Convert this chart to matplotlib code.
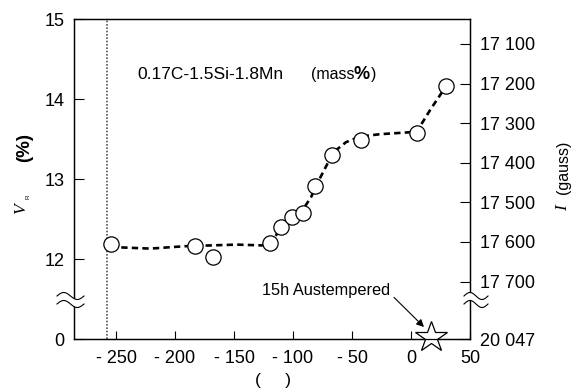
import numpy as np
import matplotlib
matplotlib.use("Agg")
import matplotlib.pyplot as plt

plt.rcParams["font.family"] = ["Liberation Sans", "DejaVu Sans"]

# measured V_R (%) vs temperature
temp = [-254.5, -183, -167.5, -119.5, -110, -101, -91.5, -81.5, -67, -42.5, 5, 29.5]
vr = [12.19, 12.16, 12.03, 12.20, 12.40, 12.53, 12.58, 12.91, 13.30, 13.49, 13.58, 14.16]

# hand-drawn trend curve (dashed)
curve_t = [-254.5, -221, -191.5, -147.7, -126.3, -117.8, -110.2, -100.9, -91.6, -84.8,
           -78.9, -71.2, -66.1, -55.1, -43.2, -26.3, 4.8, 16.1, 29.7]
curve_vr = [12.15, 12.13, 12.16, 12.18, 12.17, 12.22, 12.39, 12.53, 12.62, 12.77,
            12.96, 13.18, 13.33, 13.46, 13.53, 13.56, 13.59, 13.86, 14.16]

# 15h austempered reference (plotted below the axis break, "0")
star_t = [17]
star_vr = [11.02]

xticks = [-250, -200, -150, -100, -50, 0, 50]
xlabels = ["- 250", "- 200", "- 150", "- 100", "- 50", "0", "50"]
yticks = [11, 12, 13, 14, 15]
ylabels = ["0", "12", "13", "14", "15"]
gticks = [17100, 17200, 17300, 17400, 17500, 17600, 17700, 17845]
glabels = ["17 100", "17 200", "17 300", "17 400", "17 500", "17 600", "17 700", "20 047"]

W, H = 573, 392
fig = plt.figure(figsize=(W / 100, H / 100), dpi=100)
ax = fig.add_axes([74 / W, 1 - 339 / H, 396 / W, 320 / H])


def fx(px):
    return px / W


def fy(py):
    return 1 - py / H


ax.set_xlim(-285.6, 50)
ax.set_ylim(11, 15)

ax.axvline(-258, color="#555555", lw=1.2, linestyle=(0, (1, 1)), zorder=1)

ax.plot(curve_t, curve_vr, color="black", lw=1.9, linestyle=(0, (2.4, 1.6)), zorder=2)
ax.plot(temp, vr, "o", ms=11, mfc="white", mec="black", mew=0.9, zorder=3, clip_on=False)
ax.plot(star_t, star_vr, "*", ms=23.5, mfc="white", mec="black", mew=0.9, zorder=4, clip_on=False)

ax.annotate("", xy=(11, 11.15), xytext=(-14.4, 11.52),
            arrowprops=dict(arrowstyle="-|>", color="black", lw=0.8,
                            mutation_scale=11, shrinkA=0, shrinkB=0))

ax.set_xticks(xticks)
ax.set_xticklabels(xlabels)
ax.set_yticks(yticks)
ax.set_yticklabels(ylabels)
ax.tick_params(axis="x", direction="in", length=6, width=0.8, labelsize=13, pad=8)
ax.tick_params(axis="y", direction="in", length=7, width=0.8, labelsize=13, pad=7)
for s in ax.spines.values():
    s.set_linewidth(0.9)

ax2 = ax.twinx()
ax2.set_ylim(17845, 17037)
ax2.set_yticks(gticks)
ax2.set_yticklabels(glabels)
ax2.tick_params(axis="y", direction="in", length=7, width=0.8, labelsize=13, pad=7)
for s in ax2.spines.values():
    s.set_linewidth(0.9)

# axis break marks
def brk(x0, x1, yc):
    xs = np.linspace(x0, x1, 40)
    ph = 2 * np.pi * (xs - x0) / (x1 - x0)
    up = yc - 4 - 3.5 * np.sin(ph)
    lo = yc + 4 - 3.5 * np.sin(ph)
    fig.patches.append(plt.Polygon(
        np.column_stack([np.r_[fx(xs), fx(xs[::-1])], np.r_[fy(up), fy(lo[::-1])]]),
        closed=True, facecolor="white", edgecolor="none",
        transform=fig.transFigure, figure=fig, zorder=10))
    for yy in (up, lo):
        fig.add_artist(plt.Line2D(fx(xs), fy(yy), color="black", lw=0.8, zorder=11))


brk(57, 84, 300)
brk(464, 488, 300)

# texts
base = fy(79)
fig.text(fx(137), base, "0.17C-1.5Si-1.8Mn", fontsize=12.5, va="baseline")
fig.text(fx(310.7), base, "(mass", fontsize=11.5, va="baseline")
fig.text(fx(353), base, "%", fontsize=13, fontweight="bold", va="baseline")
fig.text(fx(370.5), base, ")", fontsize=11.5, va="baseline")

fig.text(fx(262), fy(295), "15h Austempered", fontsize=11.8, va="baseline")

fig.text(fx(25), fy(148), "(%)", fontsize=13.5, fontweight="bold", rotation=90,
         ha="center", va="center")
fig.text(fx(21), fy(209), "V", fontsize=12.5, family="Liberation Serif", style="italic",
         rotation=90, ha="center", va="center")
fig.text(fx(28), fy(197), "R", fontsize=4.5, rotation=90, ha="center", va="center")

fig.text(fx(563), fy(167), "(gauss)", fontsize=11.5, rotation=90, ha="center", va="center")
fig.text(fx(563), fy(208), "I", fontsize=12.5, family="Liberation Serif", style="italic",
         rotation=90, ha="center", va="center")

fig.text(fx(273), fy(381), "(     )", fontsize=12.5, ha="center", va="center")

fig.savefig("out.png", dpi=100)
